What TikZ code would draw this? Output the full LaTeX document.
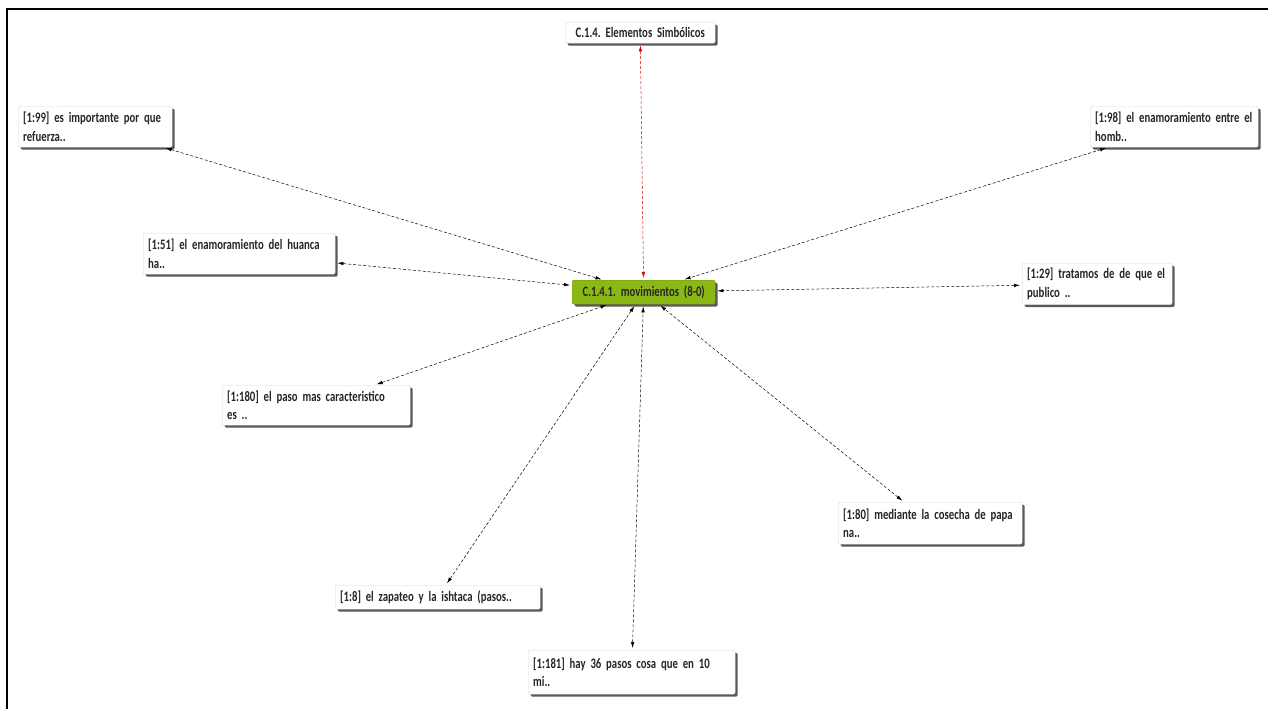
\documentclass[tikz,border=0pt]{standalone}
\usepackage{fontspec}
\setmainfont{Carlito}[FakeStretch=0.74]
\usetikzlibrary{arrows.meta,shadows}
\newcommand\quotefont{\fontsize{14.5}{18.5}\selectfont\bfseries\spaceskip=2.6pt plus 1pt minus 0.5pt\relax}

\begin{document}
\frenchspacing
\begin{tikzpicture}[x=1pt,y=-1pt,
  quote/.style={draw=gray!30, fill=white, rounded corners=2pt, anchor=north west,
    align=left, inner sep=5pt, text=black!85, font=\quotefont,
    drop shadow={shadow xshift=2.5pt, shadow yshift=-2.5pt, fill=black!65, opacity=1}},
  code/.style={quote, align=center},
  link/.style={densely dashed, line width=0.5pt, shorten <=2pt, shorten >=2pt,
    {Latex[length=6pt,width=3.5pt]}-{Latex[length=6pt,width=3.5pt]}}
]
\useasboundingbox (0,0) rectangle (1268,709);
\draw[line width=2pt] (7,709) -- (7,9) -- (1268,9);

% codes
\node[code, text width=140pt, minimum height=21pt] (sym) at (565,22) {C.1.4. Elementos Simbólicos};
\node[code, text width=133pt, minimum height=24pt, fill={rgb,255:red,140;green,184;blue,22}, draw={rgb,255:red,110;green,150;blue,10}] (mov) at (572,280) {C.1.4.1. movimientos (8-0)};

% quotations
\node[quote, text width=144pt, minimum height=41pt] (q99) at (18,106) {[1:99] es importante por que\\refuerza..};
\node[quote, text width=158pt, minimum height=41pt] (q98) at (1090,106) {[1:98] el enamoramiento entre el\\homb..};
\node[quote, text width=182pt, minimum height=41pt] (q51) at (143,233) {[1:51] el enamoramiento del huanca\\ha..};
\node[quote, text width=140pt, minimum height=40pt] (q29) at (1022,263) {[1:29] tratamos de de que el\\publico ..};
\node[quote, text width=178pt, minimum height=40pt] (q180) at (222,385) {[1:180] el paso mas caracteristico\\es ..};
\node[quote, text width=174pt, minimum height=42pt] (q80) at (838,502) {\mbox{[1:80] mediante la cosecha de papa}\\na..};
\node[quote, text width=195pt, minimum height=24pt] (q8) at (335,585) {[1:8] el zapateo y la ishtaca (pasos..};
\node[quote, text width=197pt, minimum height=44pt] (q181) at (528,650) {[1:181] hay 36 pasos cosa que en 10\\mi..};

\draw[link, red!85!black] (sym) -- (mov);
\foreach \q in {q99,q98,q51,q29,q180,q80,q8,q181}
  \draw[link] (\q) -- (mov);
\end{tikzpicture}
\end{document}
